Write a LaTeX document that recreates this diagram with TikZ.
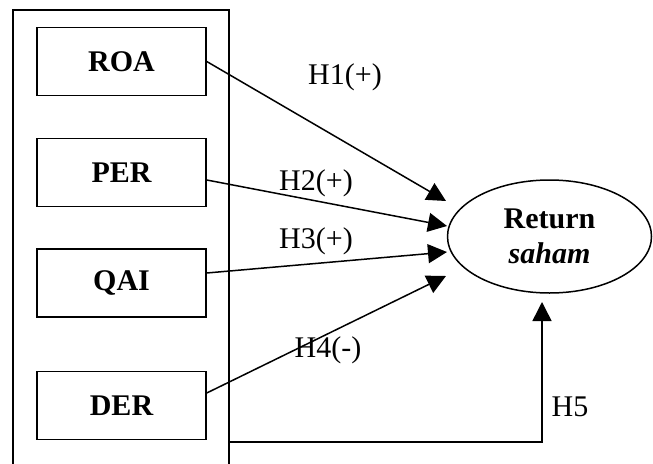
\documentclass[tikz,border=0pt]{standalone}
\usepackage{fontspec}
\setmainfont{Liberation Serif}
\usetikzlibrary{arrows.meta,shapes.geometric,calc}
\begin{document}
\begin{tikzpicture}[x=1pt,y=-1pt,
 every node/.style={font=\fontsize{30}{37}\selectfont},
 varbox/.style={draw,line width=1.5pt,minimum width=169pt,minimum height=68pt,inner sep=0pt,font=\fontsize{30}{37}\selectfont\bfseries},
 framebox/.style={draw,line width=1.5pt,minimum width=216pt,minimum height=470pt,inner sep=0pt},
 conn/.style={line width=1.5pt,-{Triangle[length=19pt,width=19pt]}},
 lbl/.style={inner sep=0pt}]
\useasboundingbox (0,0) rectangle (653,463);
\clip (0,0) rectangle (653,463);
\node[framebox] (frame) at (121,245) {};
\node[varbox] (roa) at (121.5,61.5) {ROA};
\node[varbox] (per) at (121.5,172.5) {PER};
\node[varbox] (qai) at (121.5,283) {QAI};
\node[varbox] (der) at (121.5,405.5) {DER};
\node[ellipse,draw,line width=1.5pt,minimum width=204pt,minimum height=113pt,inner sep=0pt,align=center] (ret) at (549.5,236.5) {\textbf{Return}\\[-2pt]\textbf{\textit{saham}}};
\coordinate (t1) at (446,201);
\coordinate (t2) at (447,226);
\coordinate (t3) at (447,252);
\coordinate (t4) at (446,276);
\coordinate (t5) at (542,302);
\coordinate (h5c) at (542,442);
\draw[conn] (roa.east) -- (t1);
\draw[conn] ($(per.east)+(0,7.5)$) -- (t2);
\draw[conn] ($(qai.east)+(0,-10)$) -- (t3);
\draw[conn] ($(der.east)+(0,-12.5)$) -- (t4);
\draw[conn] (frame.east |- h5c) -- (h5c) -- (t5);
\node[lbl] (l1) at (345,77) {H1(+)};
\node[lbl] (l2) at (316,183) {H2(+)};
\node[lbl] (l3) at (316,241) {H3(+)};
\node[lbl] (l4) at (328,350) {H4(-)};
\node[lbl] (l5) at (570,407) {H5};
\end{tikzpicture}
\end{document}
